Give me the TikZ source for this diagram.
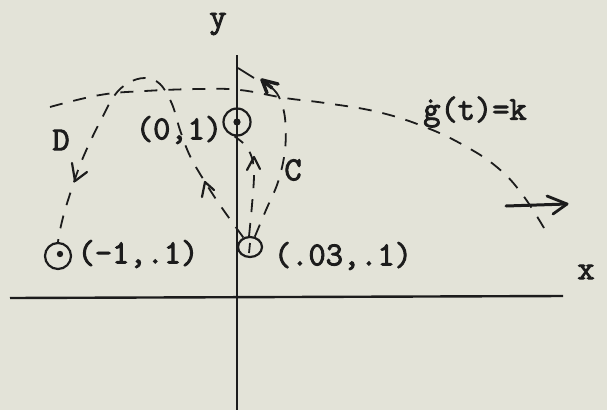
\documentclass[tikz,border=0pt]{standalone}
\usetikzlibrary{calc,shapes.geometric}
\definecolor{paper}{RGB}{227,227,216}
\definecolor{ink}{RGB}{28,28,28}
\newcommand\fattext{\special{pdf:literal direct 2 Tr 0.9 w 0.11 0.11 0.11 RG}}
\tikzset{
  axis/.style={draw=ink, line width=2.4pt},
  traj/.style={draw=ink, line width=1.8pt, dash pattern=on 13pt off 11pt},
  tip/.style={draw=ink, line width=2.2pt, line cap=round, line join=round},
  lbl/.style={font=\fontsize{33.5}{33.5}\selectfont\ttfamily\fattext, text=ink, inner sep=1pt},
  ring/.style={circle, draw=ink, line width=2.2pt, minimum size=27pt, inner sep=0pt},
  oval/.style={ellipse, draw=ink, line width=2.2pt, minimum width=24pt, minimum height=20pt, inner sep=0pt},
}
\begin{document}
\begin{tikzpicture}[x=1pt,y=-1pt]
\fill[paper] (0,0) rectangle (607,410);
\useasboundingbox (0,0) rectangle (607,410);
% axes
\coordinate (xl) at (10,298);
\coordinate (xr) at (563,296);
\coordinate (yt) at (237,55);
\coordinate (yb) at (237,410);
\draw[axis] (xl) -- (xr);
\draw[axis] (yt) -- (yb);
% points
\node[ring] (P01) at (237,122) {};
\fill[ink] (P01.center) circle (3.6pt);
\node[ring, minimum size=26pt] (Pm1) at (58,256) {};
\fill[ink] (60,254) circle (3.2pt);
\node[oval] (P03) at (250,247) {};
\draw[ink, line width=1.8pt] (250,243) -- (249,253);
% long trajectory g
\draw[traj] plot[smooth, tension=0.7] coordinates {(50,107) (100,95) (145,91) (200,89) (240,90) (285,98) (325,103) (378,112) (425,127) (465,146) (498,168) (522,194) (544,228)};
% trajectory D
\draw[traj] plot[smooth, tension=0.6] coordinates {(P03.125) (222,208) (205,182) (190,156) (180,130) (172,104) (160,84) (145,78) (128,83) (114,96) (102,118) (90,142) (80,165) (73,185) (65,210) (60,230) (Pm1.north)};
% middle trajectory
\draw[traj] plot[smooth, tension=0.6] coordinates {(P03.95) (252,205) (254,175) (252,158) (245,145) (P01.-100)};
% trajectory C
\draw[traj] plot[smooth, tension=0.6] coordinates {(P03.65) (266,210) (278,182) (285,150) (285,118) (279,97) (272,88)};
\draw[traj, solid] (254,78) -- (238,68);
% arrow heads
\coordinate (a1) at (205,182);
\coordinate (a2) at (75,181);
\coordinate (a3) at (254,157);
\coordinate (a4) at (262,80);
\draw[tip] ($(a1)+(-3,15)$) -- (a1) -- ($(a1)+(9,8)$);
\draw[tip] ($(a2)+(-3,-18)$) -- (a2) -- ($(a2)+(12,-9)$);
\draw[tip] ($(a3)+(-7,13)$) -- (a3) -- ($(a3)+(6,12)$);
\draw[tip, line width=3.4pt] ($(a4)+(5,13)$) -- (a4) -- ($(a4)+(16,4)$);
\draw[tip, line width=3.4pt] (a4) -- ($(a4)+(10,8)$);
% direction arrow
\coordinate (r0) at (506,206);
\coordinate (r1) at (567,204);
\draw[tip, line width=3pt] (r0) -- (r1);
\draw[tip, line width=2.8pt] ($(r1)+(-20,-8)$) -- (r1) -- ($(r1)+(-14,10)$);
% labels
\node[lbl] (L01) at (179,130) {(0,1)};
\node[lbl] (Lm1) at (138,254) {(-1,.1)};
\node[lbl] (L03) at (343,256) {(.03,.1)};
\node[lbl] (LD) at (61,140) {D};
\node[lbl] (LC) at (293,170) {C};
\node[lbl, fill=paper] (Lg) at (475,112) {\.{g}(t)=k};
\node[lbl] (Ly) at (218,24) {y};
\node[lbl] (Lx) at (586,272) {x};
\end{tikzpicture}
\end{document}
